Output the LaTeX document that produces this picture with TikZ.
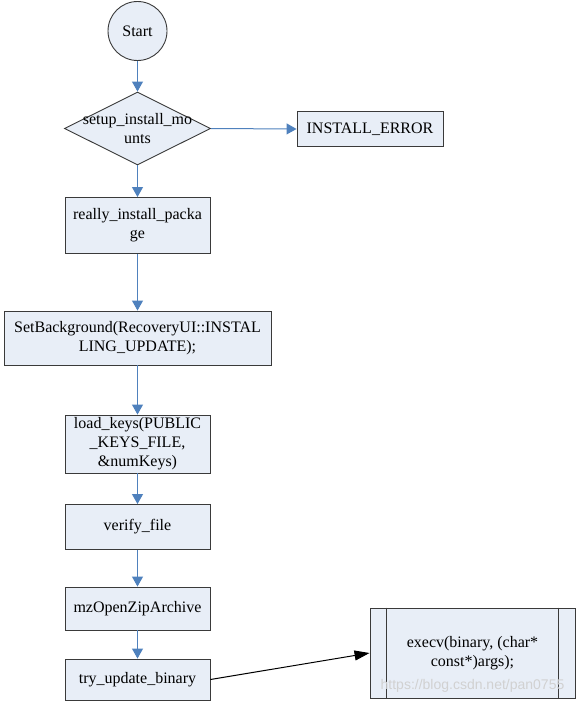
\documentclass[tikz,border=0pt]{standalone}
\usepackage{fontspec}
\setmainfont{Liberation Serif}
\newfontfamily\marksans{Liberation Sans}
\usetikzlibrary{shapes.geometric, arrows.meta}

\definecolor{boxfill}{HTML}{E8EEF7}
\definecolor{boxline}{HTML}{3A3A3A}
\definecolor{flowblue}{HTML}{4F81BD}

\tikzset{
  every node/.style={font=\fontsize{16}{19}\selectfont},
  procbox/.style={draw=boxline, fill=boxfill, line width=0.9pt, inner sep=0pt, align=center},
  startnode/.style={circle, draw=boxline, fill=boxfill, line width=0.9pt, minimum size=59pt, inner sep=0pt},
  decision/.style={diamond, draw=boxline, fill=boxfill, line width=0.9pt, minimum width=146pt, minimum height=73pt, inner sep=0pt},
  flow/.style={draw=flowblue, line width=1pt, -{Triangle[length=10pt, width=11pt]}},
  callflow/.style={draw=black, line width=1pt, -{Triangle[length=15pt, width=10pt]}},
  watermark/.style={font=\marksans\fontsize{14}{16}\selectfont, text=black!18}
}

\begin{document}
\begin{tikzpicture}[x=1pt, y=-1pt]
  \useasboundingbox (0,0) rectangle (584,704);

  % main column
  \node[startnode] (start) at (137.5, 31) {Start};
  \node[decision] (mount) at (137.5, 128.5) {};
  \node[align=center, inner sep=0pt] (mounttext) at (mount.center) {setup\_install\_mo\\unts};
  \node[procbox, minimum width=146pt, minimum height=35pt] (error) at (370, 129) {INSTALL\_ERROR};
  \node[procbox, minimum width=145pt, minimum height=56pt] (pkg) at (137.5, 225.5) {really\_install\_packa\\ge};
  \node[procbox, minimum width=267pt, minimum height=54pt] (bg) at (137.5, 338) {SetBackground(RecoveryUI::INSTAL\\LING\_UPDATE);};
  \node[procbox, minimum width=145pt, minimum height=58pt] (keys) at (137.5, 444) {load\_keys(PUBLIC\\\_KEYS\_FILE,\\\&numKeys)};
  \node[procbox, minimum width=145pt, minimum height=45pt] (verify) at (137.5, 527) {verify\_file};
  \node[procbox, minimum width=145pt, minimum height=43pt] (zip) at (137.5, 608.5) {mzOpenZipArchive};
  \node[procbox, minimum width=145pt, minimum height=41pt] (binary) at (137.5, 679.5) {try\_update\_binary};

  % predefined process
  \node[procbox, minimum width=205pt, minimum height=90pt] (execv) at (472.5, 653) {execv(binary, (char*\\const*)args);};
  \draw[boxline, line width=0.9pt] ([xshift=17pt]execv.north west) -- ([xshift=17pt]execv.south west);
  \draw[boxline, line width=0.9pt] ([xshift=-17pt]execv.north east) -- ([xshift=-17pt]execv.south east);

  \node[watermark] (mark) at (472.5, 686) {https://blog.csdn.net/pan0755};

  % connectors
  \draw[flow] (start) -- (mount);
  \draw[flow] (mount.east) -- (error.west);
  \draw[flow] (mount) -- (pkg);
  \draw[flow] (pkg) -- (bg);
  \draw[flow] (bg) -- (keys);
  \draw[flow] (keys) -- (verify);
  \draw[flow] (verify) -- (zip);
  \draw[flow] (zip) -- (binary);
  \draw[callflow] (binary.east) -- (execv.west);
\end{tikzpicture}
\end{document}
